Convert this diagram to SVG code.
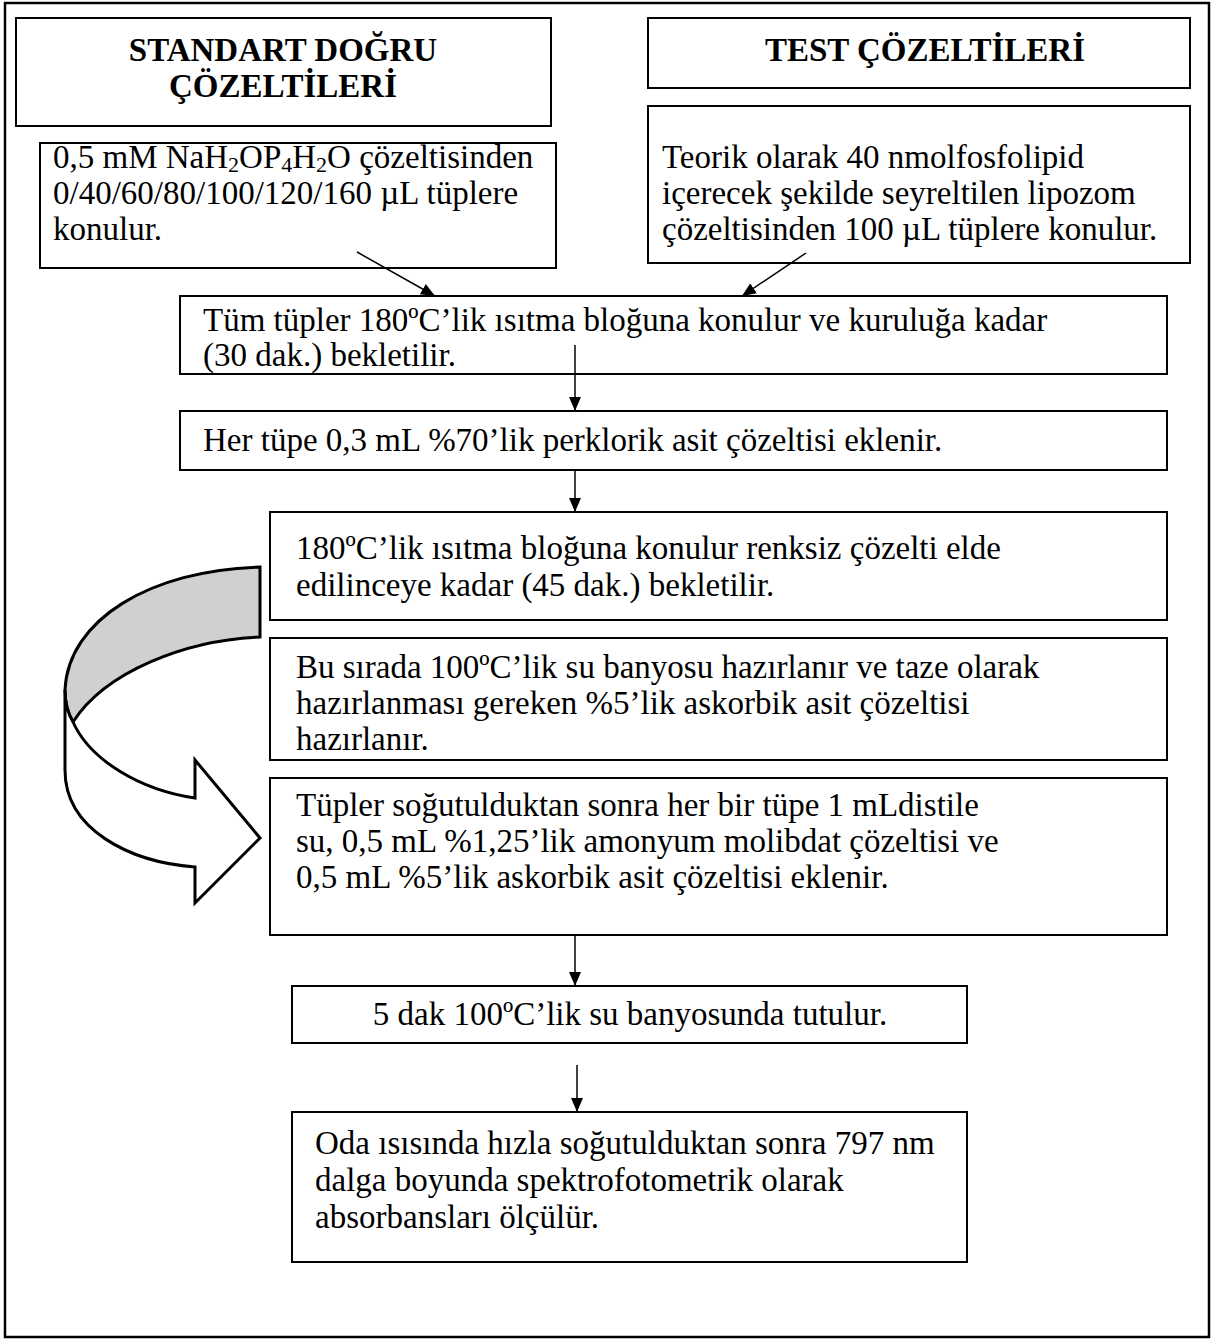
<svg xmlns="http://www.w3.org/2000/svg" width="1215" height="1340" viewBox="0 0 1215 1340">
<style>
.box{fill:#fff;stroke:#000;stroke-width:2}
.t{font-family:"Liberation Serif","Times New Roman",serif;font-size:33px;fill:#000}
.h{font-family:"Liberation Serif","Times New Roman",serif;font-size:33px;font-weight:bold;fill:#000;text-anchor:middle}
.c{stroke:#000;stroke-width:1.5;fill:none;marker-end:url(#ah)}
.sub{font-size:22px}
</style>
<defs>
<marker id="ah" markerUnits="userSpaceOnUse" markerWidth="14" markerHeight="18" refX="14" refY="6" orient="auto" viewBox="0 0 14 12">
<path d="M0,0 L14,6 L0,12 Z" fill="#000"/>
</marker>
</defs>
<rect x="5" y="3" width="1204" height="1334" fill="#fff" stroke="#000" stroke-width="2.5"/>
<g id="n-standart"><rect class="box" x="16" y="18" width="535" height="108"/><text class="h" x="283" y="61">STANDART DOĞRU</text><text class="h" x="283" y="97">ÇÖZELTİLERİ</text></g>
<g id="n-test"><rect class="box" x="648" y="18" width="542" height="70"/><text class="h" x="925" y="61">TEST ÇÖZELTİLERİ</text></g>
<g id="n-a"><rect class="box" x="40" y="143" width="516" height="125"/>
<text class="t" x="53" y="168">0,5 mM NaH<tspan class="sub" baseline-shift="-20%">2</tspan>OP<tspan class="sub" baseline-shift="-20%">4</tspan>H<tspan class="sub" baseline-shift="-20%">2</tspan>O çözeltisinden</text>
<text class="t" x="53" y="204">0/40/60/80/100/120/160 µL tüplere</text>
<text class="t" x="53" y="240">konulur.</text></g>
<g id="n-b"><rect class="box" x="648" y="106" width="542" height="157"/>
<text class="t" x="662" y="168">Teorik olarak 40 nmolfosfolipid</text>
<text class="t" x="662" y="204">içerecek şekilde seyreltilen lipozom</text>
<text class="t" x="662" y="240">çözeltisinden 100 µL tüplere konulur.</text></g>
<g id="n-c"><rect class="box" x="180" y="296" width="987" height="78"/>
<text class="t" x="203" y="331">Tüm tüpler 180ºC’lik ısıtma bloğuna konulur ve kuruluğa kadar</text>
<text class="t" x="203" y="366">(30 dak.) bekletilir.</text></g>
<g id="n-d"><rect class="box" x="180" y="411" width="987" height="59"/>
<text class="t" x="203" y="451">Her tüpe 0,3 mL %70’lik perklorik asit çözeltisi eklenir.</text></g>
<g id="n-e"><rect class="box" x="270" y="512" width="897" height="108"/>
<text class="t" x="296" y="559">180ºC’lik ısıtma bloğuna konulur renksiz çözelti elde</text>
<text class="t" x="296" y="596">edilinceye kadar (45 dak.) bekletilir.</text></g>
<g id="n-f"><rect class="box" x="270" y="638" width="897" height="122"/>
<text class="t" x="296" y="678">Bu sırada 100ºC’lik su banyosu hazırlanır ve taze olarak</text>
<text class="t" x="296" y="714">hazırlanması gereken %5’lik askorbik asit çözeltisi</text>
<text class="t" x="296" y="750">hazırlanır.</text></g>
<g id="n-g"><rect class="box" x="270" y="778" width="897" height="157"/>
<text class="t" x="296" y="816">Tüpler soğutulduktan sonra her bir tüpe 1 mLdistile</text>
<text class="t" x="296" y="852">su, 0,5 mL %1,25’lik amonyum molibdat çözeltisi ve</text>
<text class="t" x="296" y="888">0,5 mL %5’lik askorbik asit çözeltisi eklenir.</text></g>
<g id="n-h"><rect class="box" x="292" y="986" width="675" height="57"/>
<text class="t" x="630" y="1025" text-anchor="middle">5 dak 100ºC’lik su banyosunda tutulur.</text></g>
<g id="n-i"><rect class="box" x="292" y="1112" width="675" height="150"/>
<text class="t" x="315" y="1154">Oda ısısında hızla soğutulduktan sonra 797 nm</text>
<text class="t" x="315" y="1191">dalga boyunda spektrofotometrik olarak</text>
<text class="t" x="315" y="1228">absorbansları ölçülür.</text></g>
<g id="curved-arrow" stroke="#000" stroke-width="3" stroke-linejoin="miter">
<path d="M260,567 L260,637 C185,640 105,672 73,722 C67,712 65,700 65,690 C68,620 150,570 260,567 Z" fill="#d0d0d0"/>
<path d="M65,690 L65,770 C65,830 130,862 195,867 L195,903 L260,838 L195,760 L195,798 C140,790 90,760 73,722 C67,712 65,700 65,690 Z" fill="#fff"/>
</g>
<g id="connectors">
<line class="c" x1="357" y1="252" x2="435" y2="296"/>
<line class="c" x1="806" y1="253" x2="742" y2="296"/>
<line class="c" x1="575" y1="345" x2="575" y2="411"/>
<line class="c" x1="575" y1="470" x2="575" y2="512"/>
<line class="c" x1="575" y1="935" x2="575" y2="986"/>
<line class="c" x1="577" y1="1065" x2="577" y2="1112"/>
</g>
</svg>
